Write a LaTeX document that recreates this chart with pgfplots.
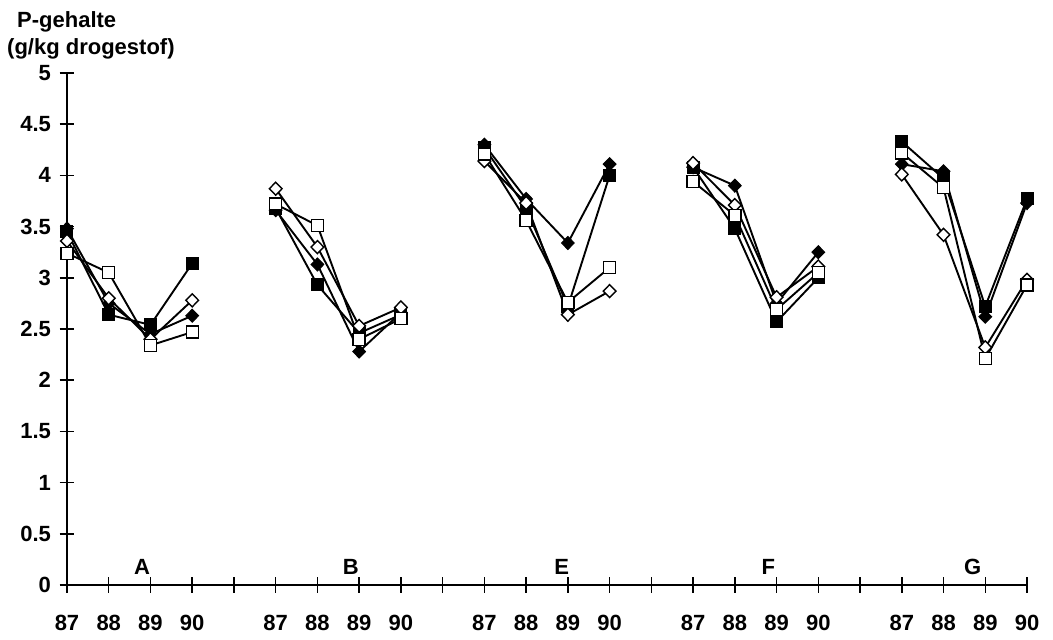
\documentclass[border=0pt]{standalone}
\usepackage{pgfplots}
\pgfplotsset{compat=1.18}
\usepackage{pgfplotstable}
\usepackage{fontspec}
\setmainfont{Liberation Sans}

% P content per plot (A, B, E, F, G) for the years 87--90; nan rows separate the plots
\pgfplotstableread{
x  fsq   osq   fdi   odi
0  3.45  3.24  3.48  3.36
1  2.64  3.05  2.75  2.80
2  2.54  2.34  2.45  2.40
3  3.14  2.47  2.63  2.78
4  nan   nan   nan   nan
5  3.68  3.72  3.66  3.87
6  2.93  3.51  3.13  3.30
7  2.46  2.40  2.28  2.53
8  2.64  2.60  2.66  2.71
9  nan   nan   nan   nan
10 4.27  4.21  4.30  4.14
11 3.68  3.56  3.77  3.73
12 2.72  2.76  3.34  2.64
13 4.00  3.10  4.11  2.87
14 nan   nan   nan   nan
15 4.08  3.94  4.08  4.12
16 3.48  3.61  3.90  3.71
17 2.57  2.69  2.75  2.81
18 3.00  3.05  3.25  3.11
19 nan   nan   nan   nan
20 4.33  4.22  4.11  4.01
21 3.97  3.88  4.04  3.42
22 2.72  2.21  2.62  2.32
23 3.77  2.93  3.73  2.98
}\pdata

\newcommand{\lab}{\fontsize{22}{26}\selectfont\bfseries}

\begin{document}
\begin{tikzpicture}
\useasboundingbox (-67pt,-55pt) rectangle (986pt,585pt);
\begin{axis}[
  at={(0,0)}, anchor=south west,
  scale only axis, width=960pt, height=512pt,
  xmin=0, xmax=23, ymin=0, ymax=5,
  axis lines*=left,
  axis line style={line width=1.9pt},
  xtick={0,...,23},
  xticklabels={87,88,89,90,,87,88,89,90,,87,88,89,90,,87,88,89,90,,87,88,89,90},
  ytick={0,0.5,1,1.5,2,2.5,3,3.5,4,4.5,5},
  tick align=center,
  major tick length=15pt,
  tick style={line width=1.5pt, black},
  tick label style={font=\lab},
  /pgf/number format/assume math mode=true,
  xticklabel style={yshift=-19pt},
  yticklabel style={xshift=-5pt},
  clip=false,
  unbounded coords=jump,
  every axis plot/.append style={black, line width=1.9pt},
]
\addplot[mark=square*, mark size=6pt, mark options={solid, fill=black, line width=1pt}]
  table[x=x, y=fsq] {\pdata};
\addplot[mark=diamond*, mark size=6.5pt, mark options={solid, fill=black, line width=1pt, xscale=1.3}]
  table[x=x, y=fdi] {\pdata};
\addplot[mark=diamond*, mark size=6.5pt, mark options={solid, fill=white, draw=black, line width=1.4pt, xscale=1.3}]
  table[x=x, y=odi] {\pdata};
\addplot[mark=square*, mark size=6pt, mark options={solid, fill=white, draw=black, line width=1.4pt}]
  table[x=x, y=osq] {\pdata};

\node[font=\lab] at (axis cs:1.8,0.18) {A};
\node[font=\lab] at (axis cs:6.8,0.18) {B};
\node[font=\lab] at (axis cs:11.85,0.18) {E};
\node[font=\lab] at (axis cs:16.8,0.18) {F};
\node[font=\lab] at (axis cs:21.7,0.18) {G};
\end{axis}
\node[anchor=base west, inner sep=0pt, font=\lab] at (-50pt,557pt) {P-gehalte};
\node[anchor=base west, inner sep=0pt, font=\lab] at (-60pt,530pt) {(g/kg drogestof)};
\end{tikzpicture}
\end{document}
